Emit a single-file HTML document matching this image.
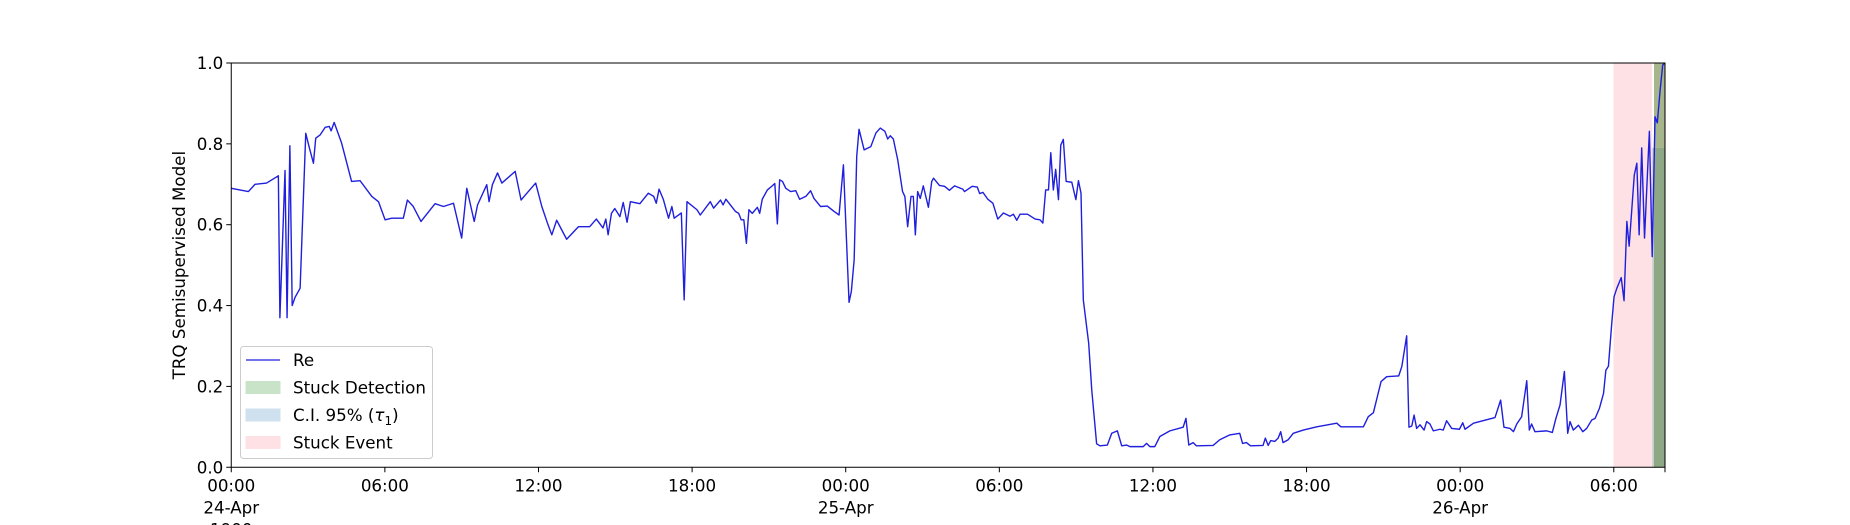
<!DOCTYPE html>
<html><head><meta charset="utf-8">
<style>
html,body{margin:0;padding:0;background:#fff;}
svg{display:block;font-family:"DejaVu Sans","Liberation Sans",sans-serif;}
</style></head>
<body>
<svg id="chart" width="1850" height="525" viewBox="0 0 1850 525"></svg>
<script>
const hours = [0,0.67,0.93,1.38,1.84,1.9,2.1,2.18,2.29,2.38,2.49,2.69,2.91,3.04,3.21,3.30,3.47,3.67,3.83,3.90,4.02,4.31,4.70,5.03,5.49,5.75,6.01,6.27,6.72,6.88,7.11,7.41,7.96,8.29,8.68,9.0,9.2,9.49,9.62,9.98,10.07,10.20,10.40,10.57,11.09,11.32,11.48,11.89,12.13,12.35,12.52,12.71,13.1,13.56,14.0,14.26,14.52,14.63,14.72,14.85,14.98,15.18,15.31,15.46,15.59,15.96,16.29,16.5,16.6,16.71,16.88,17.08,17.21,17.3,17.58,17.69,17.8,18.19,18.32,18.71,18.84,19.11,19.21,19.32,19.69,19.82,19.92,20.02,20.12,20.22,20.35,20.55,20.64,20.74,20.94,21.13,21.23,21.33,21.42,21.53,21.66,21.85,22.05,22.2,22.44,22.63,22.76,23.02,23.28,23.54,23.74,23.91,24.13,24.22,24.33,24.43,24.52,24.72,24.98,25.18,25.35,25.53,25.64,25.74,25.86,26.03,26.22,26.31,26.42,26.55,26.64,26.72,26.81,26.91,27.03,27.23,27.36,27.43,27.66,27.86,28.05,28.25,28.57,28.64,28.94,29.14,29.23,29.36,29.55,29.75,29.94,30.16,30.42,30.55,30.68,30.81,31.1,31.4,31.59,31.7,31.81,31.92,32.01,32.11,32.2,32.31,32.4,32.5,32.61,32.83,32.99,33.09,33.19,33.28,33.49,33.61,33.8,33.93,34.22,34.39,34.61,34.78,34.97,35.1,35.62,35.75,35.88,36.07,36.27,36.66,37.18,37.29,37.4,37.57,37.7,38.35,38.61,39.0,39.39,39.5,39.65,39.81,40.3,40.39,40.5,40.6,40.76,40.89,40.99,41.08,41.28,41.48,41.87,42.4,43.18,43.34,44.22,44.41,44.61,44.91,45.13,45.6,45.72,45.91,46.0,46.11,46.2,46.3,46.43,46.59,46.69,46.82,46.95,47.21,47.34,47.47,47.67,47.97,48.1,48.19,48.52,49.36,49.58,49.71,49.95,50.08,50.21,50.4,50.6,50.7,50.79,50.92,51.38,51.6,51.74,51.9,52.07,52.2,52.29,52.42,52.62,52.79,52.94,53.14,53.27,53.44,53.6,53.69,53.79,53.92,54.01,54.12,54.29,54.4,54.51,54.6,54.8,54.9,54.99,55.09,55.2,55.39,55.5,55.61,55.7,55.81,55.91,56];
const values = [0.690,0.682,0.700,0.703,0.721,0.37,0.734,0.37,0.795,0.40,0.42,0.443,0.826,0.793,0.752,0.814,0.822,0.841,0.843,0.832,0.853,0.802,0.707,0.709,0.670,0.657,0.612,0.616,0.616,0.661,0.645,0.608,0.652,0.645,0.653,0.567,0.690,0.608,0.649,0.699,0.657,0.699,0.728,0.703,0.732,0.661,0.673,0.703,0.645,0.604,0.575,0.611,0.564,0.595,0.595,0.614,0.592,0.614,0.575,0.628,0.64,0.62,0.655,0.606,0.657,0.652,0.678,0.670,0.653,0.688,0.662,0.616,0.645,0.616,0.629,0.414,0.657,0.637,0.624,0.657,0.641,0.661,0.649,0.663,0.633,0.628,0.612,0.612,0.554,0.637,0.628,0.643,0.628,0.663,0.686,0.696,0.702,0.602,0.711,0.707,0.690,0.682,0.684,0.663,0.670,0.684,0.665,0.645,0.646,0.633,0.624,0.748,0.408,0.435,0.513,0.769,0.836,0.785,0.793,0.827,0.839,0.831,0.812,0.820,0.812,0.761,0.682,0.670,0.595,0.670,0.670,0.575,0.682,0.665,0.696,0.643,0.707,0.715,0.697,0.695,0.685,0.696,0.688,0.682,0.695,0.693,0.677,0.680,0.663,0.653,0.614,0.629,0.621,0.626,0.611,0.626,0.626,0.614,0.612,0.604,0.686,0.686,0.778,0.686,0.737,0.662,0.797,0.811,0.707,0.705,0.662,0.709,0.678,0.414,0.307,0.191,0.058,0.053,0.055,0.084,0.090,0.053,0.055,0.051,0.051,0.059,0.051,0.051,0.076,0.090,0.099,0.121,0.055,0.061,0.053,0.054,0.068,0.080,0.084,0.059,0.061,0.053,0.054,0.072,0.054,0.066,0.064,0.072,0.088,0.061,0.068,0.084,0.092,0.1,0.109,0.1,0.1,0.125,0.135,0.212,0.224,0.226,0.249,0.325,0.099,0.102,0.129,0.096,0.105,0.092,0.113,0.107,0.090,0.094,0.092,0.115,0.096,0.094,0.110,0.094,0.109,0.123,0.166,0.099,0.096,0.088,0.107,0.125,0.214,0.092,0.107,0.088,0.090,0.086,0.121,0.154,0.237,0.084,0.113,0.092,0.104,0.088,0.096,0.117,0.121,0.146,0.183,0.240,0.250,0.356,0.422,0.443,0.469,0.412,0.608,0.547,0.723,0.752,0.575,0.790,0.567,0.831,0.521,0.867,0.852,0.933,0.995,1.0];
const yTicks = [0.0,0.2,0.4,0.6,0.8,1.0];
const xTickHours = [0,6,12,18,24,30,36,42,48,54];
const xTickLabels = [["00:00","24-Apr","1900"],["06:00"],["12:00"],["18:00"],["00:00","25-Apr"],["06:00"],["12:00"],["18:00"],["00:00","26-Apr"],["06:00"]];
const stuckEvent = [53.99, 55.5];
const ciBand = [55.5, 56, 0, 0.79];
const detection = [55.57, 56];

const L=231.25,R=1665,T=63,B=467.25,XMAX=56,FS=16.7;
const xs=h=>L+(h/XMAX)*(R-L);
const ys=v=>B-v*(B-T);
const NS="http://www.w3.org/2000/svg";
const svg=document.getElementById('chart');
function mk(tag,attrs,parent){const e=document.createElementNS(NS,tag);for(const k in attrs)e.setAttribute(k,attrs[k]);(parent||svg).appendChild(e);return e;}

let r=mk('rect',{x:xs(stuckEvent[0]),y:T,width:xs(stuckEvent[1])-xs(stuckEvent[0]),height:B-T,fill:'#fde1e4'});


r=mk('rect',{x:xs(ciBand[0]),y:ys(ciBand[3]),width:xs(ciBand[1])-xs(ciBand[0]),height:ys(ciBand[2])-ys(ciBand[3]),fill:'#c9cdd0'});


r=mk('rect',{x:xs(detection[0]),y:T,width:xs(detection[1])-xs(detection[0]),height:ys(ciBand[3])-T,fill:'#a7b58a'});


r=mk('rect',{x:xs(detection[0]),y:ys(ciBand[3]),width:xs(detection[1])-xs(detection[0]),height:B-ys(ciBand[3]),fill:'#8ea784'});



let d='';hours.forEach((h,i)=>{d+=(i?'L':'M')+xs(h).toFixed(2)+','+ys(values[i]).toFixed(2);});
const ln=mk('path',{d:d,fill:'none',stroke:'#1f1fdd','stroke-width':1.4,'stroke-linejoin':'round'});



const fr=mk('rect',{x:L,y:T,width:R-L,height:B-T,fill:'none',stroke:'#000','stroke-width':1});



yTicks.forEach(v=>{
  const t=mk('line',{x1:L-5,x2:L,y1:ys(v),y2:ys(v),stroke:'#000'});
  
  
  const tx=mk('text',{x:L-8,y:ys(v)+6,'text-anchor':'end','font-size':FS,fill:'#000'});
  tx.textContent=v.toFixed(1);
  
  
});
xTickHours.forEach((h,i)=>{
  const t=mk('line',{x1:xs(h),x2:xs(h),y1:B,y2:B+5,stroke:'#000'});
  
  
  xTickLabels[i].forEach((s,j)=>{
    const tx=mk('text',{x:xs(h),y:B+24+j*22,'text-anchor':'middle','font-size':FS,fill:'#000'});
    tx.textContent=s;
    
    
  });
});
const t56=mk('line',{x1:R,x2:R,y1:B,y2:B+5,stroke:'#000'});



const yl=mk('text',{x:185,y:(T+B)/2,'text-anchor':'middle','font-size':FS,fill:'#000',transform:'rotate(-90 185 '+((T+B)/2)+')'});
yl.textContent='TRQ Semisupervised Model';



const lg=mk('g',{});


mk('rect',{x:240.5,y:346.5,width:192,height:112,rx:3,fill:'#fff','fill-opacity':0.8,stroke:'#ccc'},lg);
const entries=[['Re','line','#1f1fdd'],['Stuck Detection','patch','#c8e3c8'],['C.I. 95% (τ₁)','patch','#cfe0ee'],['Stuck Event','patch','#fde1e4']];
entries.forEach((e,i)=>{
  const cy=360+i*27.5;
  const g=mk('g',{},lg);
  
  
  if(e[1]==='line') mk('line',{x1:246,x2:280,y1:cy,y2:cy,stroke:e[2],'stroke-width':1.3},g);
  else mk('rect',{x:246,y:cy-6,width:34,height:12,fill:e[2],stroke:e[2]},g);
  const tx=mk('text',{x:293,y:cy+6,'font-size':FS,fill:'#000'},g);
  if(i===2){tx.textContent='C.I. 95% (';const ts=mk('tspan',{'font-style':'italic'},tx);ts.textContent='τ';const sub=mk('tspan',{'font-size':12,dy:4},tx);sub.textContent='1';const cl=mk('tspan',{dy:-4},tx);cl.textContent=')';}
  else tx.textContent=e[0];
});
</script>
</body></html>
